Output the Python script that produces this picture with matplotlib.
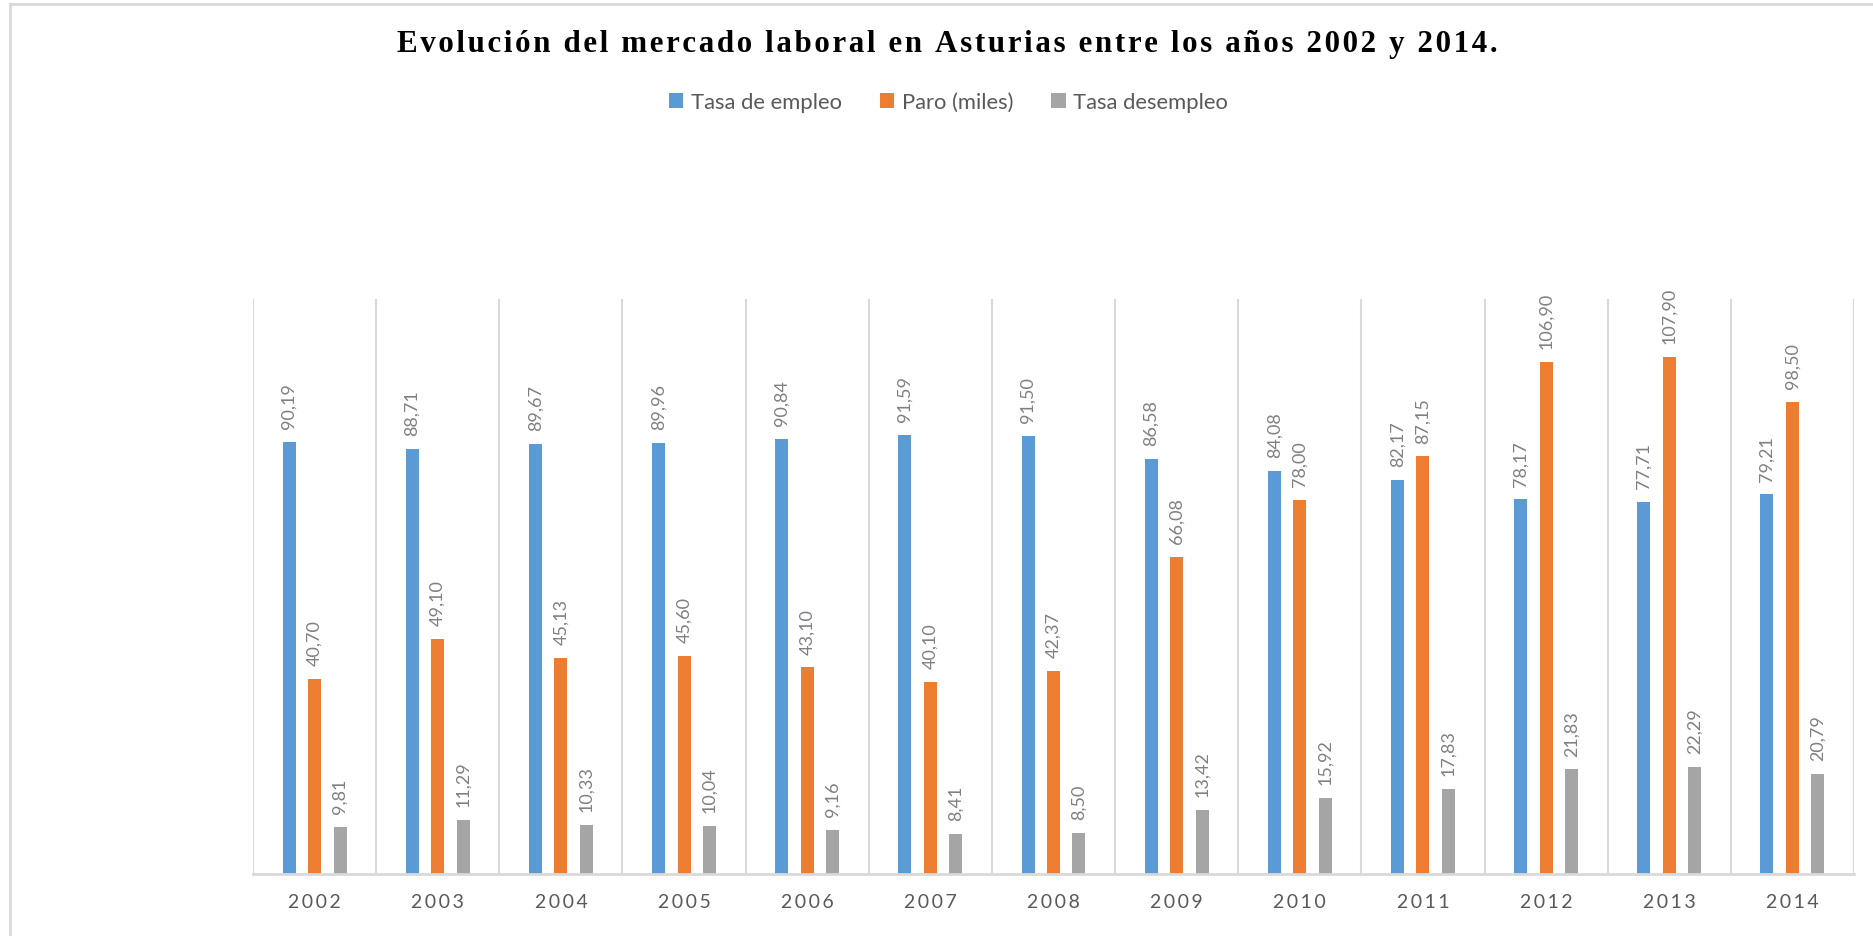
import numpy as np
import matplotlib
matplotlib.use("Agg")
import matplotlib.pyplot as plt
from matplotlib.patches import Patch
from matplotlib.lines import Line2D

# datos
years = ["2002", "2003", "2004", "2005", "2006", "2007", "2008",
         "2009", "2010", "2011", "2012", "2013", "2014"]
tasa_empleo = [90.19, 88.71, 89.67, 89.96, 90.84, 91.59, 91.50,
               86.58, 84.08, 82.17, 78.17, 77.71, 79.21]
paro_miles = [40.70, 49.10, 45.13, 45.60, 43.10, 40.10, 42.37,
              66.08, 78.00, 87.15, 106.90, 107.90, 98.50]
tasa_desempleo = [9.81, 11.29, 10.33, 10.04, 9.16, 8.41, 8.50,
                  13.42, 15.92, 17.83, 21.83, 22.29, 20.79]

series = [("Tasa de empleo", tasa_empleo, "#5b9bd5"),
          ("Paro (miles)", paro_miles, "#ed7d31"),
          ("Tasa desempleo", tasa_desempleo, "#a5a5a5")]

HS = "\u200a"  # hair space para el espaciado de letras
sans = ["Lato", "DejaVu Sans"]
serif = ["Liberation Serif", "DejaVu Serif"]

W, H = 1874, 937
fig = plt.figure(figsize=(W / 100, H / 100), dpi=100)
ax = fig.add_axes([253 / W, 1 - 875 / H, (1854 - 253) / W, (875 - 300) / H])

x = np.arange(len(years))
bw = 0.1055
step = 0.207
for i, (name, vals, col) in enumerate(series):
    pos = x + (i - 1) * step
    bars = ax.bar(pos, vals, width=bw, color=col, label=name, zorder=3)
    for b, v in zip(bars, vals):
        ax.annotate(f"{v:.2f}".replace(".", ","),
                    (b.get_x() + b.get_width() / 2, b.get_height()),
                    xytext=(0, 10), textcoords="offset points",
                    rotation=90, ha="center", va="bottom",
                    fontsize=13, color="#808080", family=sans)

ax.set_xlim(-0.5, len(years) - 0.5)
ax.set_ylim(0, 120)
ax.set_yticks([])
ax.set_xticks(x)
ax.set_xticklabels([(HS * 2).join(y) for y in years], family=sans,
                   fontsize=14, color="#595959")
ax.tick_params(axis="x", length=0, pad=14)

# lineas verticales entre categorias
for b in np.arange(-0.5, len(years), 1.0):
    ax.axvline(b, color="#d9d9d9", lw=1.5, zorder=1)
for s in ["left", "right", "top"]:
    ax.spines[s].set_visible(False)
ax.spines["bottom"].set_color("#d9d9d9")
ax.spines["bottom"].set_linewidth(2)
ax.spines["bottom"].set_zorder(4)

title = "Evolución del mercado laboral en Asturias entre los años 2002 y 2014."
fig.text(947 / W, 1 - 52 / H, HS.join(title), ha="center", va="baseline",
         fontsize=22.3, fontweight="bold", family=serif, color="black")

handles = [Patch(facecolor=c, edgecolor="none") for _, _, c in series]
leg = fig.legend(handles, [s[0] for s in series], loc="center",
                 bbox_to_anchor=(948.5 / W, 1 - 103 / H), ncol=3,
                 frameon=False, handlelength=0.64, handleheight=0.64,
                 handletextpad=0.34, columnspacing=1.75,
                 prop={"family": sans, "size": 15.8})
for t in leg.get_texts():
    t.set_color("#595959")

# borde del grafico (recortado a la derecha y abajo)
fig.add_artist(Line2D([10 / W, 10 / W], [0, 1 - 5 / H], color="#d9d9d9",
                      lw=2, transform=fig.transFigure))
fig.add_artist(Line2D([10 / W, 1], [1 - 5 / H, 1 - 5 / H], color="#d9d9d9",
                      lw=2, transform=fig.transFigure))

fig.savefig("out.png", dpi=100)
